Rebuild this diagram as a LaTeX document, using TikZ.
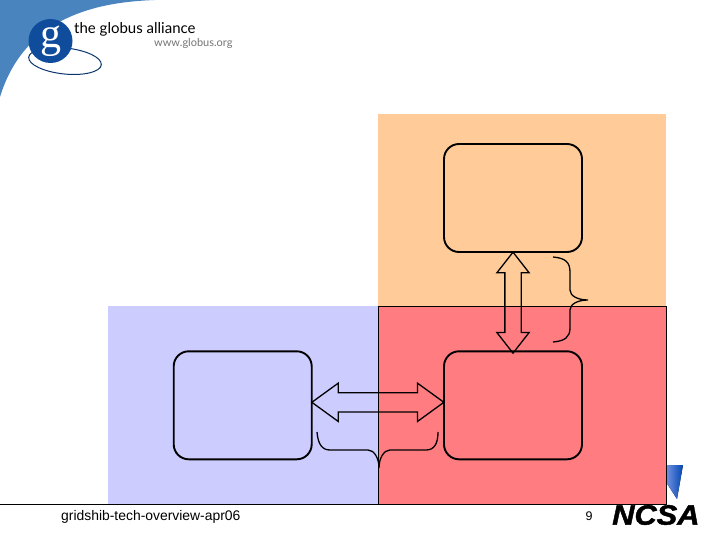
\documentclass[tikz,border=0pt]{standalone}
\usepackage{fontspec}
\setmainfont{Liberation Sans}
\newfontfamily\logofont{Lato}
\newfontfamily\gfont{Liberation Serif}
\newfontfamily\ncsafont[UprightFont=* Bold Italic,FakeBold=1.5]{Liberation Sans}
\usetikzlibrary{calc,positioning}
\usetikzlibrary{shapes.arrows}
\definecolor{sky}{HTML}{4A84BE}
\definecolor{navy}{HTML}{0F4C9C}
\definecolor{peach}{HTML}{FFCC99}
\definecolor{lilac}{HTML}{CCCCFF}
\definecolor{rose}{HTML}{FF7C80}
\begin{document}
\begin{tikzpicture}[x=1pt,y=-1pt]
    \tikzstyle{region}=[minimum width=288pt, minimum height=192pt, inner sep=0pt, outer sep=0pt]
    \tikzstyle{box}=[draw, rounded corners=15pt, line width=1.9pt, minimum width=138pt, minimum height=108pt, inner sep=0pt]
    \tikzstyle{dblarrow}=[draw, double arrow, line width=1.3pt, inner sep=0pt, text width=0pt]
    \tikzstyle{curly}=[line width=1.3pt]
    \useasboundingbox (0,0) rectangle (720,540);

    % logo
    \fill[sky] (0,0) -- (155,0) .. controls (100,2) and (25,15) .. (0,97) -- cycle;
    \draw[navy!70!black, line width=1pt, rotate around={-6:(65,61)}] (65,61) ellipse (36.5 and 13);
    \node[circle, fill=navy, minimum size=44pt, inner sep=0pt] (badge) at (50.5,41) {};
    \node[text=white, font=\gfont\fontsize{42}{42}\selectfont] (gletter) at (badge) {g};
    \node[anchor=west, inner sep=0pt, font=\logofont\fontsize{15}{15}\selectfont] (alliance) at (74,29) {the globus alliance};
    \node[anchor=west, inner sep=0pt, text=black!55, font=\logofont\fontsize{11}{11}\selectfont] (website) at (154,43) {www.globus.org};

    % ncsa
    \fill[left color=blue!25!white, right color=blue!60!cyan!70!black] (655,465) -- (683,465) -- (677,499) -- cycle;
    \node[anchor=west, inner sep=0pt, font=\ncsafont\fontsize{28}{28}\selectfont, xscale=1.1] (ncsa) at (612,515) {NCSA};

    \node[region, fill=peach] (upper) at (522,210) {};
    \node[region, fill=rose, draw, line width=.8pt, minimum height=198pt, below=0pt of upper] (lowerright) {};
    \node[region, fill=lilac, minimum width=270pt, minimum height=198pt, left=0pt of lowerright] (lowerleft) {};
    \draw[line width=.8pt] (0,504) coordinate (rule) -- (lowerright.south west);

    \node[box] (topbox) at (513,198) {};
    \node[box, below=97.4pt of topbox] (rightbox) {};
    \node[box, left=130.4pt of rightbox] (leftbox) {};

    \node[dblarrow, rotate=90, text height=15pt, minimum height=101pt, minimum width=31pt, double arrow head extend=8pt, double arrow tip angle=76] (vertarrow) at ($(topbox.south)!.5!(rightbox.north)+(0,1)$) {};
    \node[dblarrow, text height=18pt, minimum height=132pt, minimum width=37pt, double arrow head extend=9.5pt, double arrow tip angle=72] (horizarrow) at ($(leftbox.east)!.5!(rightbox.west)+(0,-3)$) {};

    \coordinate (sidetop) at (553,257);
    \coordinate (sidetip) at (588,300);
    \coordinate (sidebottom) at (553,342);
    \coordinate (underleft) at (317,432);
    \coordinate (undertip) at (379,468);
    \coordinate (underright) at (438,432);
    \draw[curly] (sidetop) .. controls (565,258) and (570,262) .. (570,272) -- (570,290) .. controls (570,296) and (578,300) .. (sidetip) .. controls (578,300) and (570,304) .. (570,310) -- (570,328) .. controls (570,337) and (565,341) .. (sidebottom);
    \draw[curly] (underleft) .. controls (318,444) and (322,450) .. (330,450) -- (368,450) .. controls (374,450) and (379,458) .. (undertip) .. controls (379,458) and (384,450) .. (390,450) -- (426,450) .. controls (434,450) and (438,444) .. (underright);

    \node[anchor=west, inner sep=0pt, font=\fontsize{13.9}{14}\selectfont] (footer) at (61,517) {gridshib-tech-overview-apr06};
    \node[inner sep=0pt, font=\fontsize{12.5}{13}\selectfont] (pagenum) at (589,516) {9};
\end{tikzpicture}
\end{document}
